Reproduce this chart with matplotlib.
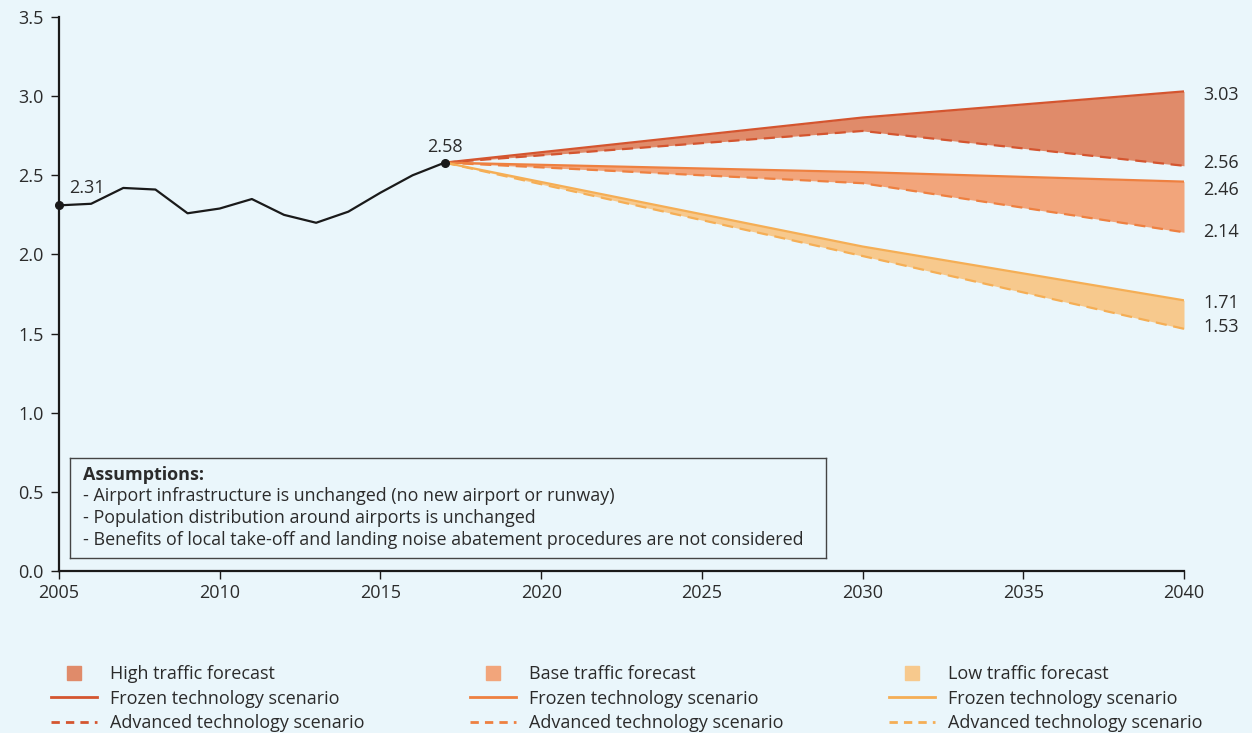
import matplotlib
matplotlib.use("Agg")
import matplotlib.pyplot as plt
from matplotlib.lines import Line2D

plt.rcParams['font.family'] = ['Open Sans', 'DejaVu Sans']

# ---- data ----
hist_years = [2005, 2006, 2007, 2008, 2009, 2010, 2011, 2012, 2013, 2014, 2015, 2016, 2017]
hist_values = [2.31, 2.32, 2.42, 2.41, 2.26, 2.29, 2.35, 2.25, 2.20, 2.27, 2.39, 2.50, 2.58]

fc_years = [2017, 2030, 2040]
high_frozen = [2.58, 2.865, 3.03]
high_advanced = [2.58, 2.78, 2.56]
base_frozen = [2.58, 2.52, 2.46]
base_advanced = [2.58, 2.45, 2.14]
low_frozen = [2.58, 2.05, 1.71]
low_advanced = [2.58, 1.99, 1.53]

end_labels = ["3.03", "2.56", "2.46", "2.14", "1.71", "1.53"]
end_label_pos = [3.01, 2.575, 2.405, 2.14, 1.695, 1.54]

x_ticks = [2005, 2010, 2015, 2020, 2025, 2030, 2035, 2040]
y_ticks = [0.0, 0.5, 1.0, 1.5, 2.0, 2.5, 3.0, 3.5]

scenarios = [
    ("High traffic forecast", high_frozen, high_advanced, "#E08B6A", "#D4552F"),
    ("Base traffic forecast", base_frozen, base_advanced, "#F2A57B", "#EE8040"),
    ("Low traffic forecast", low_frozen, low_advanced, "#F7C98D", "#F5AE55"),
]

assumptions_title = "Assumptions:"
assumptions = [
    "- Airport infrastructure is unchanged (no new airport or runway)",
    "- Population distribution around airports is unchanged",
    "- Benefits of local take-off and landing noise abatement procedures are not considered",
]

# ---- figure ----
bg = "#EAF6FB"
W, H = 1252, 733
FS = 13
fig = plt.figure(figsize=(W / 100, H / 100), dpi=100, facecolor=bg)
ax = fig.add_axes([59 / W, 1 - 571 / H, (1184 - 59) / W, (571 - 17) / H])
ax.set_facecolor(bg)

txt = "#2b2b2b"
for name, fr, adv, fill, line in scenarios:
    ax.fill_between(fc_years, fr, adv, color=fill, lw=0, zorder=1)
    ax.plot(fc_years, fr, color=line, lw=1.6, solid_capstyle='butt', zorder=2)
    ax.plot(fc_years, adv, color=line, lw=1.6, dashes=(5, 3), zorder=2)

ax.plot(hist_years, hist_values, color="#1a1a1a", lw=1.6, zorder=3)
ax.plot([hist_years[0], hist_years[-1]], [hist_values[0], hist_values[-1]], 'o',
        color="#1a1a1a", ms=5.5, zorder=4, clip_on=False)
ax.annotate(f"{hist_values[0]:.2f}", (hist_years[0], hist_values[0]), xytext=(7, 6),
            textcoords='offset points', fontsize=FS, color=txt, ha='left', va='bottom')
ax.annotate(f"{hist_values[-1]:.2f}", (hist_years[-1], hist_values[-1]), xytext=(0, 5),
            textcoords='offset points', fontsize=FS, color=txt, ha='center', va='bottom')

for lab, ypos in zip(end_labels, end_label_pos):
    ax.annotate(lab, (fc_years[-1], ypos), xytext=(14, 0), textcoords='offset points',
                fontsize=FS, color=txt, ha='left', va='center', annotation_clip=False)

ax.set_xlim(2005, 2040)
ax.set_ylim(0, 3.5)
ax.set_xticks(x_ticks)
ax.set_yticks(y_ticks)
ax.set_yticklabels([f"{v:.1f}" for v in y_ticks])
for s in ['top', 'right']:
    ax.spines[s].set_visible(False)
for s in ['left', 'bottom']:
    ax.spines[s].set_color("#1a1a1a")
    ax.spines[s].set_linewidth(1.6)
ax.tick_params(axis='both', direction='out', length=6, width=1, color="#1a1a1a",
               labelsize=FS, labelcolor=txt, pad=5)
ax.tick_params(axis='x', pad=3.5)

# assumptions box
box_ax = fig.add_axes([70 / W, 1 - 558 / H, (826 - 70) / W, (558 - 458) / H])
box_ax.set_facecolor(bg)
box_ax.set_xticks([])
box_ax.set_yticks([])
for s in box_ax.spines.values():
    s.set_color("#444444")
    s.set_linewidth(1.0)
box_ax.text(13 / 756, 1 - 17 / 100, assumptions_title, transform=box_ax.transAxes,
            fontsize=FS, fontweight='bold', color=txt, va='center', ha='left')
for i, line in enumerate(assumptions):
    box_ax.text(13 / 756, 1 - (38 + 22 * i) / 100, line, transform=box_ax.transAxes,
                fontsize=12.9, color=txt, va='center', ha='left')

# legend
handles, labels = [], []
for name, fr, adv, fill, line in scenarios:
    handles.append(Line2D([], [], marker='s', ls='none', ms=10.5, color=fill, mec=fill))
    labels.append(name)
    handles.append(Line2D([], [], color=line, lw=2))
    labels.append("Frozen technology scenario")
    handles.append(Line2D([], [], color=line, lw=2, dashes=(3, 2.2)))
    labels.append("Advanced technology scenario")

leg = fig.legend(handles, labels, ncol=3, loc='upper left',
                 bbox_to_anchor=(51 / W, 1 - 665 / H), frameon=False,
                 fontsize=FS, labelcolor=txt, handlelength=2.55, handletextpad=0.72,
                 labelspacing=0.36, columnspacing=5.85, borderpad=0, borderaxespad=0)

fig.savefig("out.png", dpi=100, facecolor=bg)
